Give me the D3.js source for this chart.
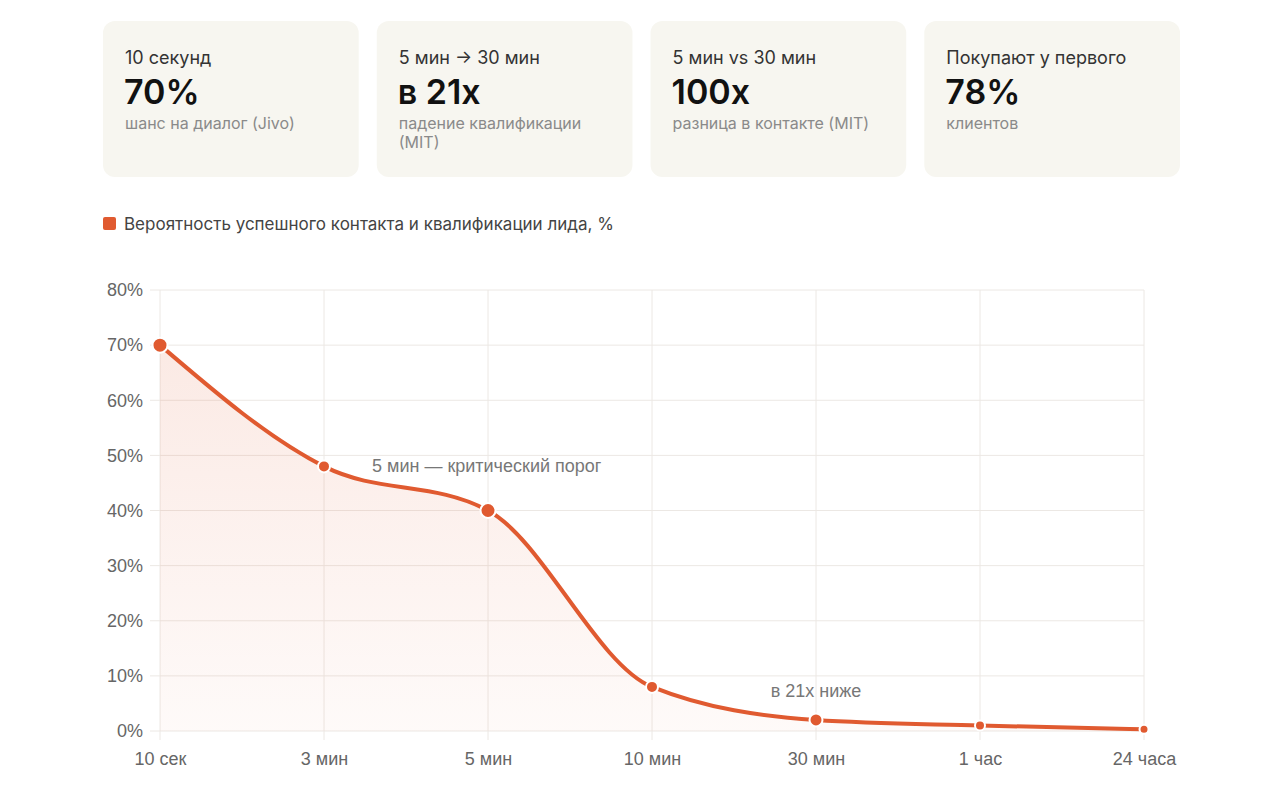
<!DOCTYPE html>
<html><head><meta charset="utf-8">
<script src="https://cdn.jsdelivr.net/npm/d3@7"></script>
<style>
html,body{margin:0;padding:0;background:#fff;}
svg{display:block;}
</style></head>
<body>
<svg id="c" width="1280" height="800"></svg>
<script>
// ---- data ----
const categories = ["10 сек", "3 мин", "5 мин", "10 мин", "30 мин", "1 час", "24 часа"];
const values = [70, 48, 40, 8, 2, 1, 0.3];
const pointRadii = [7.5, 6, 7.5, 6, 6.5, 5, 4.5];
const yTicks = [0, 10, 20, 30, 40, 50, 60, 70, 80];
const seriesLabel = "Вероятность успешного контакта и квалификации лида, %";
const cardLabels = ["10 секунд", "5 мин → 30 мин", "5 мин vs 30 мин", "Покупают у первого"];
const cardValues = ["70%", "в 21x", "100x", "78%"];
const cardNotes = [["шанс на диалог (Jivo)"], ["падение квалификации", "(MIT)"], ["разница в контакте (MIT)"], ["клиентов"]];
const annotations = [
  {text: "5 мин — критический порог", cat: "3 мин", val: 48, dx: 48, dy: 0, anchor: "start"},
  {text: "в 21x ниже", cat: "30 мин", val: 2, dx: 0, dy: -29, anchor: "middle"}
];

const svg = d3.select("#c");
const orange = "#e05a30";

// ---- cards ----
const cardX = d3.scaleBand().domain(d3.range(4)).range([103, 1180]).paddingInner(0.066).paddingOuter(0);
const cards = svg.selectAll("g.card").data(d3.range(4)).join("g").attr("class", "card")
  .attr("transform", i => `translate(${cardX(i)},21)`);
cards.append("rect").attr("width", cardX.bandwidth()).attr("height", 156).attr("rx", 12).attr("fill", "#f7f6f0");
cards.append("text").attr("x", 22).attr("y", 43).attr("font-family", "Inter, sans-serif").attr("font-size", 18)
  .attr("fill", "#333").text(i => cardLabels[i]);
cards.append("text").attr("x", 21).attr("y", 83).attr("font-family", "Inter, sans-serif").attr("font-size", 34)
  .attr("font-weight", 600).attr("fill", "#111").text(i => cardValues[i]);
cards.each(function(i){
  d3.select(this).selectAll("text.note").data(cardNotes[i]).join("text").attr("class","note")
    .attr("x", 22).attr("y", (d,j) => 108 + j*19).attr("font-family", "Inter, sans-serif").attr("font-size", 16)
    .attr("fill", "#8a8a8a").text(d => d);
});

// ---- legend ----
svg.append("rect").attr("x", 103).attr("y", 217).attr("width", 13).attr("height", 13).attr("rx", 2).attr("fill", orange);
svg.append("text").attr("x", 124).attr("y", 230).attr("font-family", "Inter, sans-serif").attr("font-size", 17)
  .attr("fill", "#444").text(seriesLabel);

// ---- chart ----
const x = d3.scalePoint().domain(categories).range([160, 1144]);
const y = d3.scaleLinear().domain([0, 80]).range([731, 290]);

const grid = svg.append("g");
grid.selectAll("line.h").data(yTicks).join("line").attr("class","h")
  .attr("x1", 150).attr("x2", 1144).attr("y1", d => y(d)).attr("y2", d => y(d))
  .attr("stroke", "#ece8e4").attr("stroke-width", 1);
grid.selectAll("line.v").data(categories).join("line").attr("class","v")
  .attr("x1", d => x(d)).attr("x2", d => x(d)).attr("y1", 290).attr("y2", 740)
  .attr("stroke", "#ece8e4").attr("stroke-width", 1);

const tickFont = "'Liberation Sans', Arial, sans-serif";
const yAxis = d3.axisLeft(y).tickValues(yTicks).tickFormat(d => d + "%").tickSize(0).tickPadding(17);
const yg = svg.append("g").attr("transform", "translate(160,0)").call(yAxis);
yg.select(".domain").remove();
yg.selectAll("text").attr("font-family", tickFont).attr("font-size", 18).attr("fill", "#666");

const xAxis = d3.axisBottom(x).tickSize(0).tickPadding(21);
const xg = svg.append("g").attr("transform", "translate(0,731)").call(xAxis);
xg.select(".domain").remove();
xg.selectAll("text").attr("font-family", tickFont).attr("font-size", 18).attr("fill", "#666");

const data = categories.map((c, i) => ({c, v: values[i], r: pointRadii[i]}));

const defs = svg.append("defs");
const grad = defs.append("linearGradient").attr("id", "fillg")
  .attr("gradientUnits", "userSpaceOnUse").attr("x1", 0).attr("x2", 0).attr("y1", y(70)).attr("y2", y(0));
grad.append("stop").attr("offset", 0).attr("stop-color", orange).attr("stop-opacity", 0.13);
grad.append("stop").attr("offset", 1).attr("stop-color", orange).attr("stop-opacity", 0.03);

const area = d3.area().x(d => x(d.c)).y0(y(0)).y1(d => y(d.v)).curve(d3.curveMonotoneX);
const line = d3.line().x(d => x(d.c)).y(d => y(d.v)).curve(d3.curveMonotoneX);

svg.append("path").datum(data).attr("d", area).attr("fill", "url(#fillg)");
svg.append("path").datum(data).attr("d", line).attr("fill", "none").attr("stroke", orange).attr("stroke-width", 4);

svg.selectAll("circle.pt").data(data).join("circle").attr("class","pt")
  .attr("cx", d => x(d.c)).attr("cy", d => y(d.v)).attr("r", d => d.r)
  .attr("fill", orange).attr("stroke", "#fff").attr("stroke-width", 2);

svg.selectAll("text.ann").data(annotations).join("text").attr("class","ann")
  .attr("x", d => x(d.cat) + d.dx).attr("y", d => y(d.val) + d.dy + 6)
  .attr("text-anchor", d => d.anchor)
  .attr("font-family", tickFont).attr("font-size", 18).attr("fill", "#777")
  .text(d => d.text);
</script>
</body></html>
